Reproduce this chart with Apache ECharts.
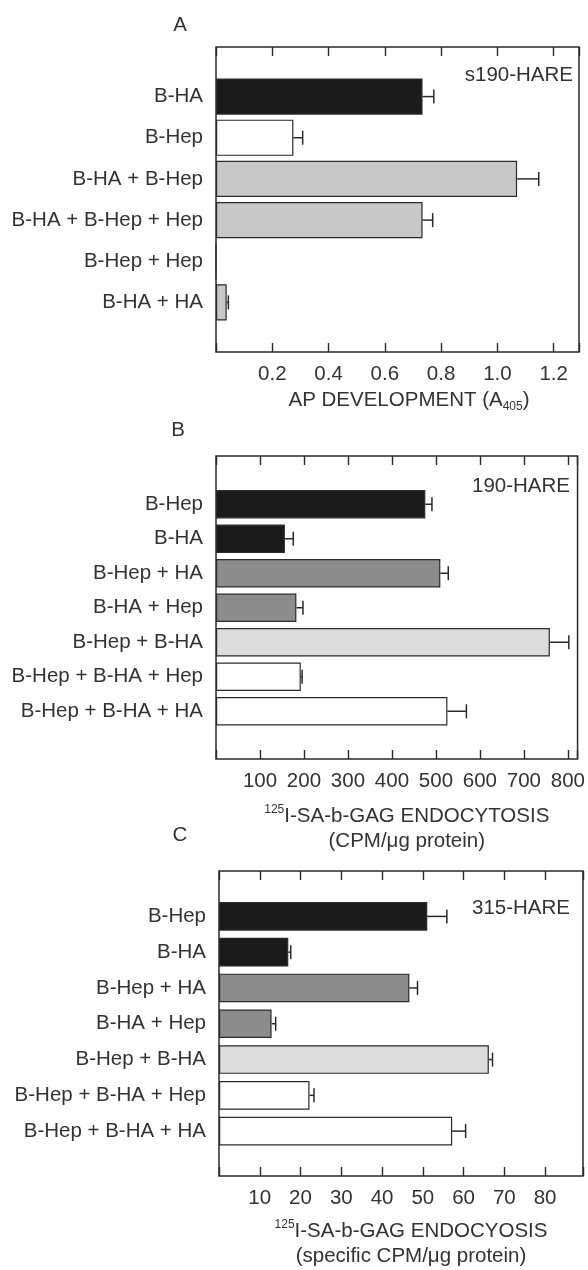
<!DOCTYPE html>
<html>
<head>
<meta charset="utf-8">
<script src="https://cdn.jsdelivr.net/npm/echarts@6/dist/echarts.min.js"></script>
<style>
  html, body { margin: 0; padding: 0; background: #fff; }
  #chart { width: 588px; height: 1270px; }
</style>
</head>
<body>
<div id="chart"></div>
<script>
// panel A
const catsA = ['B-HA', 'B-Hep', 'B-HA + B-Hep', 'B-HA + B-Hep + Hep', 'B-Hep + Hep', 'B-HA + HA'];
const valA = [0.734, 0.275, 1.07, 0.734, 0, 0.038];
const errA = [0.04, 0.033, 0.077, 0.036, 0, 0.006];
const ticksA = [0.2, 0.4, 0.6, 0.8, 1.0, 1.2];

// panels B and C share categories
const catsBC = ['B-Hep', 'B-HA', 'B-Hep + HA', 'B-HA + Hep', 'B-Hep + B-HA', 'B-Hep + B-HA + Hep', 'B-Hep + B-HA + HA'];
const valB = [474, 156, 508, 182, 756, 192, 524];
const errB = [15, 19, 18, 15, 43, 3, 43];
const ticksB = [100, 200, 300, 400, 500, 600, 700, 800];

const valC = [51.1, 17.0, 46.7, 12.9, 66.2, 22.2, 57.2];
const errC = [4.8, 0.6, 2.0, 1.0, 0.9, 1.1, 3.3];
const ticksC = [10, 20, 30, 40, 50, 60, 70, 80];

// bar fills
const fillA = ['#1b1b1b', '#ffffff', '#c8c8c8', '#c8c8c8', '#c8c8c8', '#c8c8c8'];
const fillBC = ['#1b1b1b', '#1b1b1b', '#8c8c8c', '#8c8c8c', '#dcdcdc', '#ffffff', '#ffffff'];

const INK = '#2a2a2a';
const TXT = '#333';
const FONT = 'Liberation Sans, Arial, sans-serif';
const FS = 20.5;

const panels = [
  {
    cats: catsA, vals: valA, errs: errA, ticks: ticksA, fills: fillA,
    max: 1.29, interval: 0.2, digits: 1, gap: '12%',
    frame: { left: 216, top: 47, width: 363, height: 305 },
    inner: { top: 76, height: 247 },
    name: 'AP DEVELOPMENT (A{sub|405})', nameGap: 36, shift: 23
  },
  {
    cats: catsBC, vals: valB, errs: errB, ticks: ticksB, fills: fillBC,
    max: 822, interval: 100, digits: 0, gap: '18%',
    frame: { left: 216, top: 456, width: 363, height: 303 },
    inner: { top: 487, height: 241.5 },
    name: '{sup|125}I-SA-b-GAG ENDOCYTOSIS\n(CPM/μg protein)', nameGap: 45, shift: 20
  },
  {
    cats: catsBC, vals: valC, errs: errC, ticks: ticksC, fills: fillBC,
    max: 89.3, interval: 10, digits: 0, gap: '20%',
    frame: { left: 219, top: 871, width: 364, height: 306 },
    inner: { top: 898.5, height: 250.5 },
    name: '{sup|125}I-SA-b-GAG ENDOCYOSIS\n(specific CPM/μg protein)', nameGap: 43, shift: 20
  }
];

const grid = [], xAxis = [], yAxis = [], series = [];

panels.forEach((p, k) => {
  const gFrame = grid.length;
  grid.push({
    left: p.frame.left, top: p.frame.top, width: p.frame.width, height: p.frame.height,
    show: true, borderColor: INK, borderWidth: 1.5, backgroundColor: 'transparent'
  });
  const gInner = grid.length;
  grid.push({
    left: p.frame.left, top: p.inner.top, width: p.frame.width, height: p.inner.height
  });

  const tickFmt = v => p.ticks.some(t => Math.abs(t - v) < 1e-6) ? v.toFixed(p.digits) : '';
  const tickStyle = { show: true, inside: true, length: 9, lineStyle: { color: INK, width: 1.4 } };

  // bottom axis with labels and name
  xAxis.push({
    type: 'value', gridIndex: gFrame, position: 'bottom', min: 0, max: p.max, interval: p.interval,
    axisLine: { show: false }, splitLine: { show: false }, axisTick: tickStyle,
    axisLabel: { formatter: tickFmt, margin: 12, fontSize: FS, color: TXT, fontFamily: FONT },
    name: p.name, nameLocation: 'middle', nameGap: p.nameGap,
    nameTextStyle: {
      fontSize: FS, color: TXT, fontFamily: FONT, lineHeight: 25, padding: [0, 0, 0, p.shift],
      rich: {
        sup: { fontSize: 12, color: TXT, fontFamily: FONT, verticalAlign: 'top', lineHeight: 25 },
        sub: { fontSize: 12, color: TXT, fontFamily: FONT, verticalAlign: 'bottom', lineHeight: 25 }
      }
    }
  });
  // top axis, ticks only
  xAxis.push({
    type: 'value', gridIndex: gFrame, position: 'top', min: 0, max: p.max, interval: p.interval,
    axisLine: { show: false }, splitLine: { show: false }, axisTick: tickStyle,
    axisLabel: { show: false }
  });
  const xInner = xAxis.length;
  xAxis.push({ type: 'value', gridIndex: gInner, min: 0, max: p.max, show: false });

  yAxis.push({ type: 'value', gridIndex: gFrame, min: 0, max: 1, show: false });
  const yInner = yAxis.length;
  yAxis.push({
    type: 'category', gridIndex: gInner, data: p.cats, inverse: true,
    axisLine: { show: false }, axisTick: { show: false },
    axisLabel: { margin: 13, fontSize: FS, color: TXT, fontFamily: FONT }
  });

  series.push({
    type: 'bar', xAxisIndex: xInner, yAxisIndex: yInner,
    barCategoryGap: p.gap,
    itemStyle: { borderColor: INK, borderWidth: 1.2 },
    data: p.vals.map((v, i) => ({ value: v, itemStyle: { color: p.fills[i] } })),
    silent: true
  });

  series.push({
    type: 'custom', xAxisIndex: xInner, yAxisIndex: yInner, silent: true, z: 3,
    data: p.vals.map((v, i) => [v, i, p.errs[i]]),
    renderItem: (params, api) => {
      const v = api.value(0), i = api.value(1), e = api.value(2);
      if (!e) return;
      const a = api.coord([v, i]);
      const b = api.coord([v + e, i]);
      const st = { stroke: INK, lineWidth: 1.5 };
      return {
        type: 'group',
        children: [
          { type: 'line', shape: { x1: a[0], y1: a[1], x2: b[0], y2: b[1] }, style: st },
          { type: 'line', shape: { x1: b[0], y1: b[1] - 7, x2: b[0], y2: b[1] + 7 }, style: st }
        ]
      };
    }
  });
});

const textStyle = (text, x, y, align) => ({
  type: 'text', x: x, y: y,
  style: { text: text, fontSize: FS, fill: TXT, fontFamily: FONT, align: align, verticalAlign: 'middle' }
});

const chart = echarts.init(document.getElementById('chart'));
chart.setOption({
  animation: false,
  backgroundColor: '#fff',
  grid: grid,
  xAxis: xAxis,
  yAxis: yAxis,
  series: series,
  graphic: [
    textStyle('A', 180, 25, 'center'),
    textStyle('B', 178, 430, 'center'),
    textStyle('C', 180, 835, 'center'),
    textStyle('s190-HARE', 573, 75, 'right'),
    textStyle('190-HARE', 570, 486, 'right'),
    textStyle('315-HARE', 570, 908, 'right')
  ]
});
</script>
</body>
</html>
